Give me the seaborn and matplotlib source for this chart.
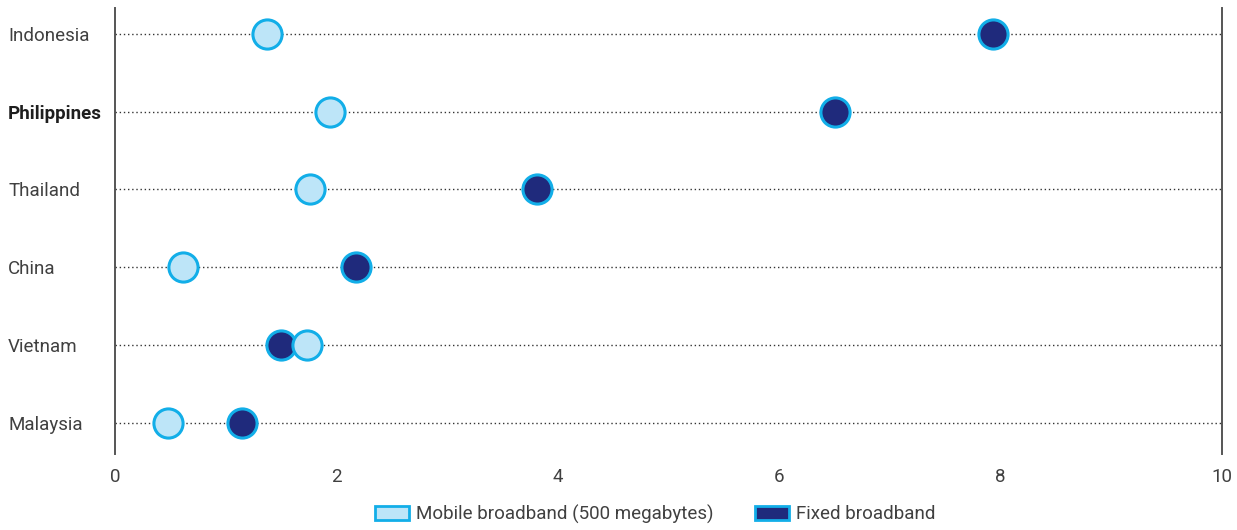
import numpy as np
import pandas as pd
import matplotlib
matplotlib.use('Agg')
import matplotlib.pyplot as plt
import seaborn as sns
from matplotlib.patches import Patch

# Chart data
countries = ['Indonesia', 'Philippines', 'Thailand', 'China', 'Vietnam', 'Malaysia']
mobile = [1.37, 1.94, 1.76, 0.61, 1.73, 0.48]
fixed = [7.93, 6.50, 3.81, 2.18, 1.50, 1.15]
series = ['Mobile broadband (500 megabytes)', 'Fixed broadband']
x_ticks = [0, 2, 4, 6, 8, 10]

mobile_fill = '#bde5f8'
fixed_fill = '#1f2a7c'
edge = '#12aee8'
text_col = '#404040'

sns.set_style('white')
plt.rcParams['font.family'] = ['Roboto', 'DejaVu Sans']

df_mobile = pd.DataFrame({'country': countries, 'value': mobile})
df_fixed = pd.DataFrame({'country': countries, 'value': fixed})

fig = plt.figure(figsize=(12.37, 5.30), dpi=100)
ax = fig.add_axes([115 / 1237, 1 - 454 / 530, (1222 - 115) / 1237, (454 - 8) / 530])

# fixed first, so mobile sits on top where they overlap
sns.stripplot(data=df_fixed, x='value', y='country', order=countries, jitter=False,
              color=fixed_fill, edgecolor=edge, linewidth=2.2, size=21, ax=ax, zorder=3)
sns.stripplot(data=df_mobile, x='value', y='country', order=countries, jitter=False,
              color=mobile_fill, edgecolor=edge, linewidth=2.2, size=21, ax=ax, zorder=4)

ax.set_xlim(0, 10)
ax.set_ylim(5.4, -0.33)
ax.set_xticks(x_ticks)
ax.set_xticklabels([str(t) for t in x_ticks])
ax.set_xlabel('')
ax.set_ylabel('')

ax.grid(axis='y', linestyle=(0, (1, 2)), color='#333333', linewidth=1)
ax.grid(axis='x', visible=False)
ax.set_axisbelow(True)

for side in ['top', 'bottom']:
    ax.spines[side].set_visible(False)
for side in ['left', 'right']:
    ax.spines[side].set_color('#555555')
    ax.spines[side].set_linewidth(1.4)

ax.tick_params(axis='y', length=0, pad=77, labelsize=13.5, labelcolor=text_col)
ax.tick_params(axis='x', direction='in', length=4.5, width=1, color='#555555',
               pad=10, labelsize=13.5, labelcolor=text_col)
for lab in ax.get_yticklabels():
    lab.set_horizontalalignment('left')
    if lab.get_text() == 'Philippines':
        lab.set_fontweight('bold')
        lab.set_color('#1e1e1e')

handles = [Patch(facecolor=mobile_fill, edgecolor=edge, linewidth=2, label=series[0]),
           Patch(facecolor=fixed_fill, edgecolor=edge, linewidth=2, label=series[1])]
fig.legend(handles=handles, loc='center', bbox_to_anchor=(0.53, 1 - 514 / 530), ncol=2,
           frameon=False, fontsize=13.5, handlelength=1.8, handleheight=0.8,
           handletextpad=0.4, columnspacing=2.2, labelcolor=text_col)

fig.savefig('out.png', dpi=100)
